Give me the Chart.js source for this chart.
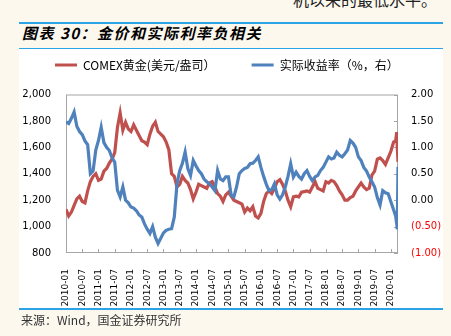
<!DOCTYPE html>
<html>
<head>
<meta charset="utf-8">
<script src="https://cdn.jsdelivr.net/npm/chart.js@4.4.0/dist/chart.umd.min.js"></script>
<style>
  body { margin: 0; width: 451px; height: 336px; background: #fcf8ee; position: relative; overflow: hidden; font-family: "Noto Sans CJK SC", sans-serif; }
  #prev { position: absolute; left: 293px; top: -9px; font-size: 16px; line-height: 16px; color: #222; white-space: nowrap; }
  #title { position: absolute; left: 19px; top: 22px; width: 424px; height: 24px; border-top: 2px solid #2ba4e6; border-bottom: 2px solid #2ba4e6; }
  #title span { position: absolute; left: 3px; top: -1px; font-size: 15px; line-height: 20px; font-weight: bold; font-style: italic; letter-spacing: 1.5px; color: #000; }
  #panel { position: absolute; left: 19px; top: 49px; width: 424px; height: 260px; background: #fff; }
  #src { position: absolute; left: 19px; top: 308px; width: 424px; border-top: 2px solid #2ba4e6; }
  #src span { position: absolute; left: 2px; top: 3px; font-size: 12px; line-height: 14px; color: #333; white-space: nowrap; }
</style>
</head>
<body>
<div id="prev">机以来的最低水平。</div>
<div id="title"><span>图表 30：金价和实际利率负相关</span></div>
<div id="panel"><canvas id="goldChart" width="424" height="260"></canvas></div>
<div id="src"><span>来源：Wind，国金证券研究所</span></div>
<script>
var dates = [
  '2010-01','2010-02','2010-03','2010-04','2010-05','2010-06','2010-07','2010-08','2010-09','2010-10','2010-11','2010-12',
  '2011-01','2011-02','2011-03','2011-04','2011-05','2011-06','2011-07','2011-08','2011-09','2011-10','2011-11','2011-12',
  '2012-01','2012-02','2012-03','2012-04','2012-05','2012-06','2012-07','2012-08','2012-09','2012-10','2012-11','2012-12',
  '2013-01','2013-02','2013-03','2013-04','2013-05','2013-06','2013-07','2013-08','2013-09','2013-10','2013-11','2013-12',
  '2014-01','2014-02','2014-03','2014-04','2014-05','2014-06','2014-07','2014-08','2014-09','2014-10','2014-11','2014-12',
  '2015-01','2015-02','2015-03','2015-04','2015-05','2015-06','2015-07','2015-08','2015-09','2015-10','2015-11','2015-12',
  '2016-01','2016-02','2016-03','2016-04','2016-05','2016-06','2016-07','2016-08','2016-09','2016-10','2016-11','2016-12',
  '2017-01','2017-02','2017-03','2017-04','2017-05','2017-06','2017-07','2017-08','2017-09','2017-10','2017-11','2017-12',
  '2018-01','2018-02','2018-03','2018-04','2018-05','2018-06','2018-07','2018-08','2018-09','2018-10','2018-11','2018-12',
  '2019-01','2019-02','2019-03','2019-04','2019-05','2019-06','2019-07','2019-08','2019-09','2019-10','2019-11','2019-12',
  '2020-01','2020-02','2020-02-24','2020-03-06','2020-03-12','2020-03-20'
];

// COMEX gold, USD/oz
var gold = [
  1130, 1080, 1110, 1160, 1210, 1230, 1190, 1180, 1270, 1340, 1380, 1400,
  1350, 1360, 1420, 1440, 1480, 1510, 1560, 1750, 1860, 1730, 1790, 1740,
  1720, 1770, 1730, 1690, 1650, 1640, 1620, 1700, 1760, 1790, 1720, 1700,
  1680, 1640, 1580, 1400, 1380, 1300, 1320, 1380, 1350, 1330, 1280, 1210,
  1260, 1320, 1310, 1300, 1290, 1330, 1340, 1300, 1250, 1230, 1190, 1240,
  1260, 1230, 1200, 1190, 1180, 1170, 1110, 1140, 1120, 1150, 1080, 1065,
  1100, 1190, 1250, 1270, 1250, 1290, 1340, 1355, 1320, 1270, 1200, 1150,
  1225, 1230, 1225, 1260, 1265, 1270, 1260, 1300, 1340, 1290, 1280, 1270,
  1340, 1330, 1350, 1340, 1310, 1270, 1240, 1200, 1200, 1220, 1230, 1270,
  1300, 1330, 1300, 1280, 1290, 1390, 1420, 1510, 1520, 1500, 1470, 1520,
  1570, 1640, 1650, 1715, 1600, 1490
];

// real yield, %
var realYield = [
  1.48, 1.45, 1.55, 1.67, 1.40, 1.30, 1.24, 1.12, 1.05, 0.50, 0.55, 0.95,
  1.13, 1.38, 1.09, 1.00, 0.94, 0.80, 0.72, 0.19, 0.06, 0.25, 0.00, -0.05,
  -0.13, -0.15, -0.20, -0.28, -0.32, -0.45, -0.55, -0.63, -0.50, -0.70, -0.82, -0.72,
  -0.62, -0.57, -0.55, -0.54, -0.32, 0.31, 0.56, 0.70, 0.91, 0.60, 0.47, 0.75,
  0.65, 0.56, 0.50, 0.40, 0.35, 0.31, 0.25, 0.18, 0.56, 0.40, 0.37, 0.44,
  0.44, 0.10, 0.06, 0.25, 0.50, 0.56, 0.60, 0.62, 0.69, 0.70, 0.75, 0.82,
  0.62, 0.45, 0.30, 0.18, 0.20, 0.31, 0.10, 0.02, 0.10, 0.25, 0.45, 0.69,
  0.44, 0.53, 0.45, 0.40, 0.50, 0.56, 0.45, 0.37, 0.44, 0.47, 0.56, 0.62,
  0.72, 0.82, 0.78, 0.80, 0.91, 0.85, 0.82, 0.88, 0.95, 1.13, 1.08, 1.00,
  0.82, 0.75, 0.62, 0.55, 0.44, 0.35, 0.25, 0.05, -0.09, 0.18, 0.14, 0.12,
  -0.03, -0.18, -0.30, -0.45, -0.55, 0.63
];

var seriesNames = ['COMEX黄金(美元/盎司）', '实际收益率（%，右）'];

// months since 2010-01, with day fraction when a day is given
function monthIndex(s) {
  var p = s.split('-');
  var m = (parseInt(p[0], 10) - 2010) * 12 + parseInt(p[1], 10) - 1;
  if (p[2]) m += (parseInt(p[2], 10) - 1) / 30;
  return m;
}

function toPoints(vals) {
  return vals.map(function(v, i) {
    return { x: monthIndex(dates[i]), y: v };
  });
}

function monthLabel(v) {
  var y = 2010 + Math.floor(v / 12);
  var m = v % 12 + 1;
  return y + '-' + (m < 10 ? '0' + m : m);
}

// plot border plus the small inward tick marks
var frame = {
  id: 'frame',
  beforeDatasetsDraw: function(chart) {
    var ctx = chart.ctx, a = chart.chartArea;
    ctx.save();
    ctx.strokeStyle = '#a6a6a6';
    ctx.lineWidth = 1;
    ctx.strokeRect(a.left + 0.5, a.top + 0.5, a.right - a.left - 1, a.bottom - a.top - 1);
    ctx.beginPath();
    chart.scales.x.ticks.forEach(function(t) {
      var px = Math.round(chart.scales.x.getPixelForValue(t.value)) + 0.5;
      ctx.moveTo(px, a.bottom);
      ctx.lineTo(px, a.bottom - 4);
    });
    chart.scales.y2.ticks.forEach(function(t) {
      var py = Math.round(chart.scales.y2.getPixelForValue(t.value)) + 0.5;
      ctx.moveTo(a.right, py);
      ctx.lineTo(a.right - 4, py);
    });
    ctx.stroke();
    ctx.restore();
  }
};

var tickFont = { family: 'DejaVu Sans', size: 10 };

new Chart(document.getElementById('goldChart'), {
  type: 'line',
  data: {
    datasets: [{
      label: seriesNames[0],
      data: toPoints(gold),
      yAxisID: 'y',
      borderColor: '#c0504d',
      backgroundColor: '#c0504d',
      borderWidth: 3.2,
      pointRadius: 0,
      order: 2
    }, {
      label: seriesNames[1],
      data: toPoints(realYield),
      yAxisID: 'y2',
      borderColor: '#4f81bd',
      backgroundColor: '#4f81bd',
      borderWidth: 3.2,
      pointRadius: 0,
      order: 1
    }]
  },
  options: {
    responsive: false,
    animation: false,
    layout: { padding: { top: -26, left: 0, right: 0, bottom: 0 } },
    plugins: {
      tooltip: { enabled: false },
      legend: {
        align: 'start',
        labels: {
          font: { family: 'Noto Sans CJK SC', size: 12 },
          color: '#000',
          boxWidth: 22,
          boxHeight: 3,
          padding: 36,
          sort: function(a, b) { return a.datasetIndex - b.datasetIndex; },
          generateLabels: function(chart) {
            return Chart.defaults.plugins.legend.labels.generateLabels(chart).map(function(l) {
              l.lineWidth = 0;
              return l;
            });
          }
        }
      }
    },
    scales: {
      x: {
        type: 'linear',
        min: 0,
        max: monthIndex(dates[dates.length - 1]),
        grid: { display: false },
        border: { display: false },
        ticks: {
          stepSize: 6,
          includeBounds: false,
          autoSkip: false,
          maxTicksLimit: 40,
          minRotation: 90,
          maxRotation: 90,
          padding: 8,
          color: '#000',
          font: { family: 'DejaVu Sans', size: 9 },
          callback: function(v) { return monthLabel(v); }
        },
        afterFit: function(s) { s.height = 56; }
      },
      xTop: {
        type: 'linear',
        position: 'top',
        grid: { display: false },
        border: { display: false },
        ticks: { display: false },
        afterFit: function(s) { s.height = 13.5; }
      },
      y: {
        position: 'left',
        min: 800,
        max: 2000,
        grid: { display: false, drawTicks: false },
        border: { display: false },
        ticks: {
          stepSize: 200,
          padding: 15,
          color: '#000',
          font: tickFont,
          callback: function(v) { return v.toLocaleString('en-US'); }
        },
        afterFit: function(s) { s.width = 47; }
      },
      y2: {
        position: 'right',
        min: -1,
        max: 2,
        grid: { display: false, drawTicks: false },
        border: { display: false },
        ticks: {
          stepSize: 0.5,
          padding: 13,
          font: tickFont,
          color: function(c) { return c.tick.value < 0 ? '#ff0000' : '#000'; },
          callback: function(v) { return v < 0 ? '(' + Math.abs(v).toFixed(2) + ')' : v.toFixed(2); }
        },
        afterFit: function(s) { s.width = 45; }
      }
    }
  },
  plugins: [frame]
});
</script>
</body>
</html>
